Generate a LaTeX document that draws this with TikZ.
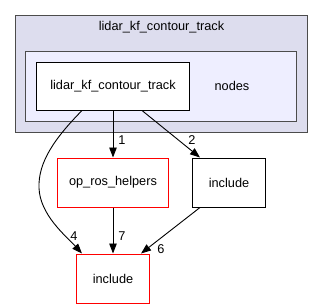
\documentclass[tikz,border=0pt]{standalone}
\usepackage{fontspec}
\setmainfont{Liberation Sans}
\usetikzlibrary{arrows.meta}
\definecolor{outerfill}{HTML}{DDDDEE}
\definecolor{innerfill}{HTML}{EEEEFF}
\begin{document}
\begin{tikzpicture}[x=1bp,y=-1bp,font=\fontsize{12.8}{15}\selectfont,
clusterbox/.style={draw=black!70,line width=1bp,inner sep=0pt},
dirbox/.style={draw,fill=white,line width=1bp,inner sep=0pt,minimum height=49bp},
reddir/.style={dirbox,draw=red},
dep/.style={line width=0.9bp,-{Triangle[length=10bp,width=7.5bp]}},
deplabel/.style={inner sep=0pt}]
\useasboundingbox (0,0) rectangle (323,308);
\node[clusterbox,fill=outerfill,minimum width=291bp,minimum height=117bp] (outer) at (161.5,73.5) {};
\node (outerlabel) at (161.5,27) {lidar\_kf\_contour\_track};
\node[clusterbox,fill=innerfill,minimum width=270bp,minimum height=70bp] (inner) at (161,86) {};
\node[dirbox,minimum width=152bp,minimum height=48bp] (lidar) at (113,86) {lidar\_kf\_contour\_track};
\node (nodesdir) at (232,86) {nodes};
\node[reddir,minimum width=110bp] (helpers) at (113,182.5) {op\_ros\_helpers};
\node[dirbox,minimum width=72bp] (incl) at (229,182.5) {include};
\node[reddir,minimum width=72bp] (incred) at (113,278.5) {include};

\draw[dep] (lidar.south) -- (helpers.north);
\draw[dep] ([xshift=29bp]lidar.south) -- ([xshift=-29bp]incl.north);
\draw[dep] ([xshift=-31bp]lidar.south) .. controls (55,138) and (38,162) .. (39,188)
  .. controls (40,215) and (66,236) .. ([xshift=-31bp]incred.north);
\draw[dep] (helpers.south) -- (incred.north);
\draw[dep] ([xshift=-29bp]incl.south) -- ([xshift=28bp]incred.north);

\node[deplabel] (l1) at (122,140) {1};
\node[deplabel] (l2) at (192,140) {2};
\node[deplabel] (l4) at (74,236) {4};
\node[deplabel] (l7) at (122,236) {7};
\node[deplabel] (l6) at (161,249) {6};
\end{tikzpicture}
\end{document}
